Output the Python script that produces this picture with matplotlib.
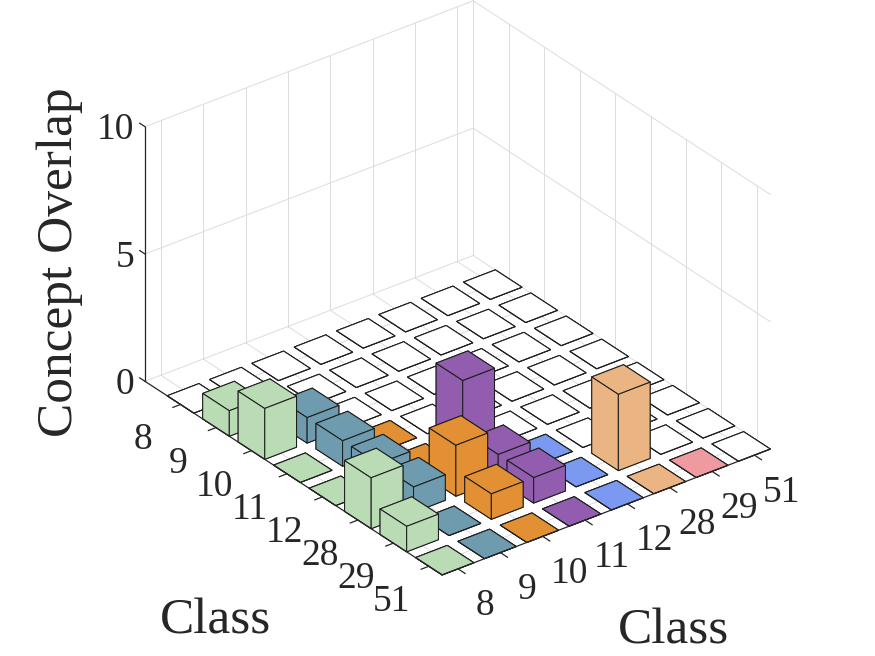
import numpy as np
import matplotlib
matplotlib.use("Agg")
import matplotlib.pyplot as plt

# ---------------- data ----------------
classes = ["8", "9", "10", "11", "12", "28", "29", "51"]
# rows: class on the left axis, columns: class on the right axis
overlap = [
    [0, 0, 0, 0, 0, 0, 0, 0],   # 8
    [1, 0, 0, 0, 0, 0, 0, 0],   # 9
    [2, 1, 0, 0, 0, 0, 0, 0],   # 10
    [0, 1, 0, 0, 0, 0, 0, 0],   # 11
    [0, 1, 0, 3, 0, 0, 0, 0],   # 12
    [2, 1, 2, 1, 0, 0, 0, 0],   # 28
    [1, 0, 1, 1, 0, 3, 0, 0],   # 29
    [0, 0, 0, 0, 0, 0, 0, 0],   # 51
]
series_colors = ["#B9DCB4", "#6E9BAE", "#E38F33", "#925DAF",
                 "#7B99F0", "#EBB583", "#EF9AA0", "#FFFFFF"]
z_ticks = [0, 5, 10]
z_max = 10
z_label = "Concept Overlap"
row_label = "Class"
col_label = "Class"

# ---------------- style / layout ----------------
W_PX, H_PX = 875, 656
FONT = ["Liberation Serif", "DejaVu Serif"]
TXT = "#262626"
GRID = "#DCDCDC"
EDGE = "#1E1E1E"
BAR_W = 0.75
n = len(classes)
pos = np.arange(1, n + 1)
XLIM = (1 - BAR_W / 2, n + BAR_W / 2)
RLIM = (0.0, n + BAR_W / 2)          # row axis (drawn reversed)

plt.rcParams["font.family"] = FONT

fig = plt.figure(figsize=(W_PX / 100, H_PX / 100), dpi=100)
fig.patch.set_facecolor("white")
ax = fig.add_axes([0.1, 0.1, 0.6, 0.6 * W_PX / H_PX], projection="3d",
                  proj_type="ortho", computed_zorder=False)
ax.view_init(elev=30, azim=-127.5)
ax.set_box_aspect((1.0, 1.18, 0.711))
ax.set_axis_off()

def Y(r):
    return -np.asarray(r, float)

# ---------------- back walls and floor grid ----------------
gkw = dict(color=GRID, lw=0.7, zorder=0)
for c in pos:
    ax.plot([c, c], [Y(RLIM[0])] * 2, [0, z_max], **gkw)
    ax.plot([c, c], [Y(RLIM[0]), Y(RLIM[1])], [0, 0], **gkw)
for r in pos:
    ax.plot([XLIM[1]] * 2, [Y(r)] * 2, [0, z_max], **gkw)
    ax.plot([XLIM[0], XLIM[1]], [Y(r)] * 2, [0, 0], **gkw)
for z in z_ticks:
    ax.plot([XLIM[0], XLIM[1]], [Y(RLIM[0])] * 2, [z, z], **gkw)
    ax.plot([XLIM[1]] * 2, [Y(RLIM[0]), Y(RLIM[1])], [z, z], **gkw)
ax.plot([XLIM[1]] * 2, [Y(RLIM[0])] * 2, [0, z_max], **gkw)

# ---------------- bars (painter's order, back to front) ----------------
cells = [(i, j) for i in range(n) for j in range(n)]
closeness = lambda ij: 39.9 * pos[ij[0]] - 28.0 * pos[ij[1]]
for k, (i, j) in enumerate(sorted(cells, key=closeness)):
    h = overlap[i][j]
    col = series_colors[j] if i > j else "#FFFFFF"
    ax.bar3d(pos[j] - BAR_W / 2, Y(pos[i]) - BAR_W / 2, 0, BAR_W, BAR_W, h,
             color=col, edgecolor=EDGE, linewidth=0.75, shade=False,
             zorder=1 + k)

# ---------------- axis lines and ticks ----------------
akw = dict(color=TXT, lw=0.9, zorder=200)
ax.plot([XLIM[0]] * 2, [Y(RLIM[0])] * 2, [0, z_max], **akw)              # z axis
ax.plot([XLIM[0]] * 2, [Y(RLIM[0]), Y(RLIM[1])], [0, 0], **akw)          # row axis
ax.plot([XLIM[0], XLIM[1]], [Y(RLIM[1])] * 2, [0, 0], **akw)             # col axis
for r in pos:
    ax.plot([XLIM[0], XLIM[0] - 0.18], [Y(r)] * 2, [0, 0], **akw)
for c in pos:
    ax.plot([c, c], [Y(RLIM[1]), Y(RLIM[1] + 0.2)], [0, 0], **akw)
for z in z_ticks:
    ax.plot([XLIM[0]] * 2, [Y(RLIM[0]), Y(RLIM[0] - 0.15)], [z, z], **akw)

ax.set_xlim(*XLIM)
ax.set_ylim(Y(RLIM[1]), Y(RLIM[0]))
ax.set_zlim(0, z_max)

# ---------------- projection helper ----------------
def to_display(pts):
    pts = np.asarray(pts, float)
    M = ax.get_proj()
    P = np.column_stack([pts, np.ones(len(pts))]) @ M.T
    p2 = np.column_stack([P[:, 0] / P[:, 3], P[:, 1] / P[:, 3]])
    return ax.transData.transform(p2)

# ---------------- fit axes placement to the reference frame ----------------
fig.canvas.draw()
ref3d = [[XLIM[0], Y(RLIM[0]), 0], [XLIM[0], Y(RLIM[0]), z_max],
         [XLIM[0], Y(RLIM[1]), 0], [XLIM[1], Y(RLIM[1]), 0]]
ref_px = np.array([[145, 381.5], [145, 127.5], [441.5, 575], [771, 448]], float)
disp = to_display(ref3d)
bb = ax.bbox
u = (disp[:, 0] - bb.x0) / bb.width
v = (disp[:, 1] - bb.y0) / bb.height
A = np.zeros((2 * len(u), 3))
b = np.zeros(2 * len(u))
A[0::2, 0] = 1; A[0::2, 2] = u; b[0::2] = ref_px[:, 0]
A[1::2, 1] = 1; A[1::2, 2] = v; b[1::2] = H_PX - ref_px[:, 1]
x0, y0, S = np.linalg.lstsq(A, b, rcond=None)[0]
ax.set_position([x0 / W_PX, y0 / H_PX, S / W_PX, S / H_PX])
fig.canvas.draw()

# ---------------- tick labels (placed at projected tick positions) ----------------
tfs = 27
def label_at(pt3d, dx, dy_down, s, ha):
    d = to_display([pt3d])[0]
    fig.text((d[0] + dx) / W_PX, (d[1] - dy_down) / H_PX, s, ha=ha,
             va="baseline", fontsize=tfs, color=TXT)

for r, lab in zip(pos, classes):
    label_at([XLIM[0], Y(r), 0], -37.5, 45.0, lab, "center")
for c, lab in zip(pos, classes):
    label_at([c, Y(RLIM[1]), 0], 27.0, 46.5, lab, "center")
for z in z_ticks:
    label_at([XLIM[0], Y(RLIM[0]), z], -11.0, 12.7, str(z), "right")

# ---------------- axis labels ----------------
lfs = 37
fig.text(72 / W_PX, 1 - 262.5 / H_PX, z_label, rotation=90, rotation_mode="anchor",
         ha="center", va="baseline", fontsize=lfs, color=TXT)
fig.text(216 / W_PX, 1 - 634 / H_PX, row_label, ha="center", va="baseline",
         fontsize=lfs, color=TXT)
fig.text(673.5 / W_PX, 1 - 644 / H_PX, col_label, ha="center", va="baseline",
         fontsize=lfs, color=TXT)

fig.savefig("out.png", dpi=100, facecolor="white")
